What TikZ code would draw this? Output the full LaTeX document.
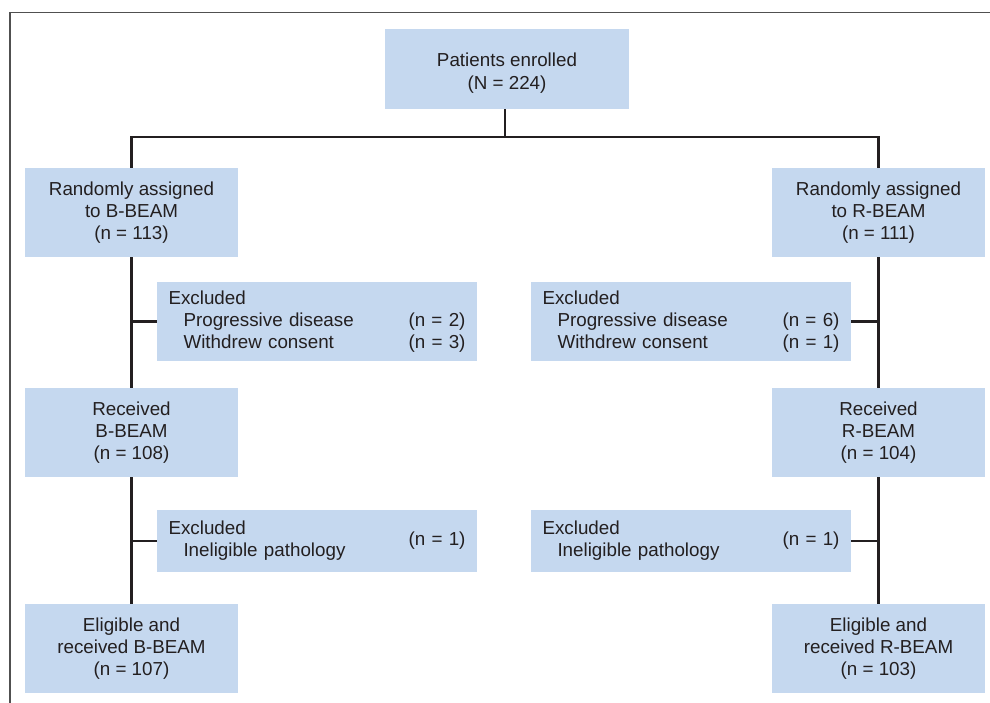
\documentclass[tikz,border=0pt]{standalone}
\usepackage{fontspec}
\setmainfont{Liberation Sans}
\definecolor{boxblue}{RGB}{197,216,239}
\definecolor{txt}{RGB}{35,31,32}
\definecolor{linec}{RGB}{35,31,32}
\definecolor{framec}{RGB}{80,80,80}
\tikzset{
  box/.style={fill=boxblue, draw=none, inner sep=0pt, text=txt, font=\fontsize{18.8}{22}\selectfont},
  cbox/.style={box, align=center, minimum width=213pt, minimum height=89pt},
  exbox/.style={box, align=left, text width=297pt, inner xsep=11.5pt, minimum height=79pt},
  exboxs/.style={box, align=left, text width=297pt, inner xsep=11.5pt, minimum height=62pt},
  conn/.style={draw=linec, line width=2.3pt},
}
\begin{document}
\begin{tikzpicture}[x=1pt,y=-1pt]
\useasboundingbox (0,0) rectangle (990,703);
\draw[framec, line width=1.8pt] (10,703) -- (10,12.5) -- (990,12.5);

\node[box, align=center, minimum width=244pt, minimum height=80pt, text height=45pt, font=\fontsize{18.8}{23}\selectfont] (top) at (507,69) {Patients enrolled\\(N = 224)};

\node[cbox] (rndB) at (131.5,212.5) {Randomly assigned\\to B-BEAM\\(n = 113)};
\node[cbox] (rndR) at (878.5,212.5) {Randomly assigned\\to R-BEAM\\(n = 111)};

\node[exbox] (exB1) at (317,321.5) {Excluded\\\hspace*{15pt}Progressive disease\hfill(n = 2)\\\hspace*{15pt}Withdrew consent\hfill(n = 3)};
\node[exbox] (exR1) at (691,321.5) {Excluded\\\hspace*{15pt}Progressive disease\hfill(n = 6)\\\hspace*{15pt}Withdrew consent\hfill(n = 1)};

\node[cbox] (recB) at (131.5,432.5) {Received\\B-BEAM\\(n = 108)};
\node[cbox] (recR) at (878.5,432.5) {Received\\R-BEAM\\(n = 104)};

\node[exboxs] (exB2) at (317,541) {\parbox[c]{220pt}{Excluded\\\hspace*{15pt}Ineligible pathology}\hfill(n = 1)};
\node[exboxs] (exR2) at (691,541) {\parbox[c]{220pt}{Excluded\\\hspace*{15pt}Ineligible pathology}\hfill(n = 1)};

\node[cbox] (eliB) at (131.5,648.5) {Eligible and\\received B-BEAM\\(n = 107)};
\node[cbox] (eliR) at (878.5,648.5) {Eligible and\\received R-BEAM\\(n = 103)};

\coordinate (hub) at (505,137);
\draw[conn] (hub |- top.south) -- (hub);
\draw[conn] (rndB.north) |- (hub) -| (rndR.north);

\draw[conn] (rndB) -- (recB);
\draw[conn] (recB) -- (eliB);
\draw[conn] (rndR) -- (recR);
\draw[conn] (recR) -- (eliR);

\draw[conn] (exB1.west) -- (exB1.west -| rndB.south);
\draw[conn] (exR1.east) -- (exR1.east -| rndR.south);
\draw[conn] (exB2.west) -- (exB2.west -| recB.south);
\draw[conn] (exR2.east) -- (exR2.east -| recR.south);
\end{tikzpicture}
\end{document}
